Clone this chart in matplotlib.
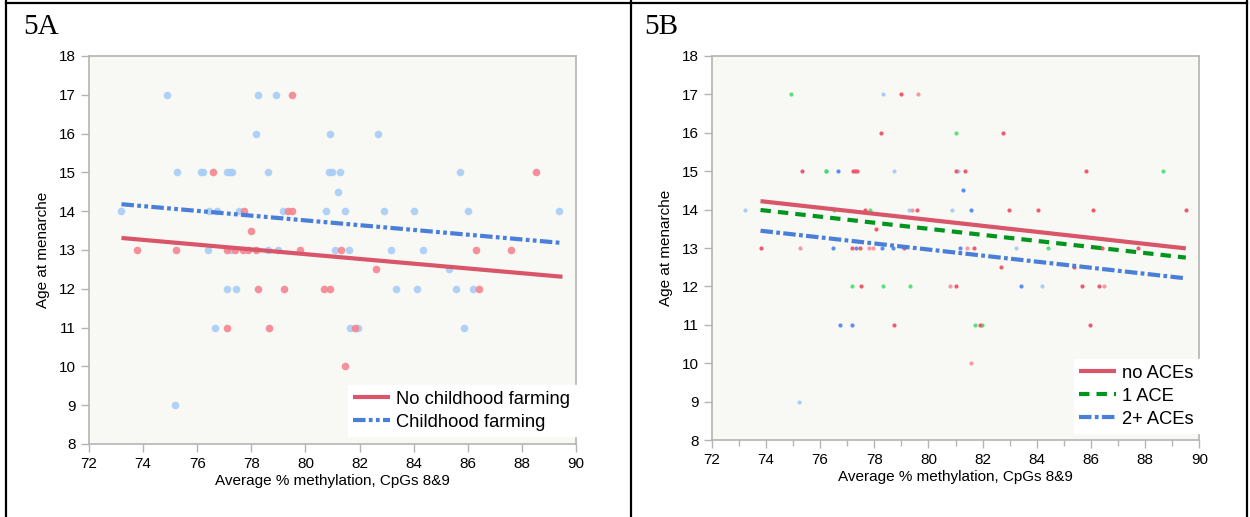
import numpy as np
import matplotlib.pyplot as plt
from matplotlib.lines import Line2D

# ---- data ----
# 5A: no childhood farming (red) / childhood farming (blue)
a_nofarm_x = [79.52, 76.58, 88.52, 77.74, 79.36, 79.49, 77.97, 73.78, 75.21, 77.1, 77.4,
              77.71, 77.86, 78.19, 79.8, 81.33, 86.31, 87.6, 82.61, 78.23, 79.22, 80.68,
              80.9, 86.4, 77.1, 78.64, 81.84, 81.46]
a_nofarm_y = [17, 15, 15, 14, 14, 14, 13.5, 13, 13, 13, 13,
              13, 13, 13, 13, 13, 13, 13, 12.5, 12, 12, 12,
              12, 12, 11, 11, 11, 10]
a_farm_x = [74.89, 78.25, 78.9, 78.19, 80.91, 82.7, 75.27, 76.15, 76.2, 77.1, 77.21, 77.3,
            78.63, 80.86, 80.98, 81.26, 85.72, 81.19, 73.19, 76.42, 76.74, 77.55, 79.17,
            80.75, 81.47, 82.91, 84.0, 86.01, 89.37, 76.39, 77.25, 78.63, 79.0, 81.1, 81.6,
            83.15, 84.34, 85.31, 77.1, 77.43, 83.33, 84.13, 85.57, 86.19, 76.64, 81.66,
            81.93, 85.86, 75.17]
a_farm_y = [17, 17, 17, 16, 16, 16, 15, 15, 15, 15, 15, 15,
            15, 15, 15, 15, 15, 14.5, 14, 14, 14, 14, 14,
            14, 14, 14, 14, 14, 14, 13, 13, 13, 13, 13, 13,
            13, 13, 12.5, 12, 12, 12, 12, 12, 12, 11, 11,
            11, 11, 9]
a_fit_x = [73.2, 89.5]
a_fit_nofarm = [13.31, 12.31]
a_fit_farm = [14.18, 13.18]

# 5B: marker colours as in the picture
b_red_x = [78.98, 78.26, 82.75, 75.33, 77.21, 77.28, 77.38, 81.01, 81.33, 85.83, 77.65, 79.57,
           82.98, 84.06, 86.09, 89.49, 78.06, 73.81, 77.19, 77.49, 79.09, 81.68, 86.40,
           87.72, 82.68, 85.37, 77.52, 81.01, 85.65, 86.30, 78.73, 81.90, 85.95]
b_red_y = [17, 16, 16, 15, 15, 15, 15, 15, 15, 15, 14, 14,
           14, 14, 14, 14, 13.5, 13, 13, 13, 13, 13, 13,
           13, 12.5, 12.5, 12, 12, 12, 12, 11, 11, 11]
b_pink_x = [79.62, 79.41, 75.26, 77.8, 77.94, 81.41, 80.78, 86.49, 81.58]
b_pink_y = [17, 14, 13, 13, 13, 13, 12, 12, 10]
b_green_x = [74.94, 81.01, 76.22, 76.22, 77.83, 76.5, 84.42, 77.19, 78.31, 79.31, 81.72,
             81.96, 88.64]
b_green_y = [17, 16, 15, 15, 14, 14, 13, 12, 12, 12, 11, 11, 15]
b_blue_x = [76.65, 81.27, 81.56, 76.46, 77.31, 78.27, 78.70, 81.17, 83.40, 76.72, 77.17]
b_blue_y = [15, 14.5, 14, 13, 13, 13, 13, 13, 12, 11, 11]
b_lblue_x = [78.33, 78.72, 81.10, 73.23, 79.28, 80.86, 83.23, 84.20, 75.23]
b_lblue_y = [17, 15, 15, 14, 14, 14, 13, 12, 9]
b_fit_x = [73.8, 89.5]
b_fit_none = [14.22, 12.99]
b_fit_one = [13.99, 12.75]
b_fit_two = [13.45, 12.21]

RED = '#d95569'
BLUE = '#4a7fd9'
GREEN = '#00961e'
FACE = '#f8f8f4'
SPINE = '#b4b4b4'

plt.rcParams['font.family'] = ['Liberation Sans', 'DejaVu Sans']

fig = plt.figure(figsize=(12.5, 5.17), dpi=100)


def style_axes(ax, minor):
    ax.set_facecolor(FACE)
    ax.set_xlim(72, 90)
    ax.set_ylim(8, 18)
    ax.set_xticks(np.arange(72, 91, 2))
    ax.set_yticks(np.arange(8, 19, 1))
    if minor:
        ax.set_xticks(np.arange(73, 90, 2), minor=True)
        ax.tick_params(axis='x', which='minor', length=4, color=SPINE, width=1)
    for s in ax.spines.values():
        s.set_color(SPINE)
        s.set_linewidth(1.2)
    ax.tick_params(which='major', length=6, color=SPINE, width=1, labelsize=11, labelcolor='black')
    ax.set_xlabel('Average % methylation, CpGs 8&9', fontsize=11, labelpad=2)
    ax.set_ylabel('Age at menarche', fontsize=11, labelpad=6)


def add_legend(ax, ypad):
    ax.legend(loc='lower right', bbox_to_anchor=(1.0, ypad), fontsize=13.2, frameon=True,
              fancybox=False, framealpha=1, edgecolor='white', handlelength=2.0,
              handletextpad=0.35, borderaxespad=0.0, borderpad=0.3, labelspacing=0.32)


# ---- 5A ----
ax1 = fig.add_axes([0.0712, 0.1412, 0.3896, 0.7505])
style_axes(ax1, False)
ax1.scatter(a_farm_x, a_farm_y, s=30, color='#a9cdf7', alpha=0.9, lw=0, zorder=2)
ax1.scatter(a_nofarm_x, a_nofarm_y, s=30, color='#f5848f', alpha=0.9, lw=0, zorder=2)
ax1.plot(a_fit_x, a_fit_nofarm, color=RED, lw=3, solid_capstyle='butt', zorder=3,
         label='No childhood farming')
ax1.plot(a_fit_x, a_fit_farm, color=BLUE, lw=3, zorder=3,
         linestyle=(0, (3, 0.8, 0.9, 0.8, 0.9, 0.8)), label='Childhood farming')
add_legend(ax1, 0.02)

# ---- 5B ----
ax2 = fig.add_axes([0.5694, 0.1489, 0.3901, 0.7428])
style_axes(ax2, True)
ax2.scatter(b_lblue_x, b_lblue_y, s=9, color='#a9cdf7', lw=0, zorder=2)
ax2.scatter(b_pink_x, b_pink_y, s=9, color='#f59aa3', lw=0, zorder=2)
ax2.scatter(b_blue_x, b_blue_y, s=9, color='#5b8ef0', lw=0, zorder=2)
ax2.scatter(b_green_x, b_green_y, s=9, color='#3fdc68', alpha=0.85, lw=0, zorder=2)
ax2.scatter(b_red_x, b_red_y, s=9, color='#f05a6c', lw=0, zorder=2)
ax2.plot(b_fit_x, b_fit_none, color=RED, lw=3, solid_capstyle='butt', zorder=3,
         label='no ACEs')
ax2.plot(b_fit_x, b_fit_one, color=GREEN, lw=3, zorder=3,
         linestyle=(0, (2.5, 1.7)), label='1 ACE')
ax2.plot(b_fit_x, b_fit_two, color=BLUE, lw=3, zorder=3,
         linestyle=(0, (3, 0.8, 0.9, 0.8)), label='2+ ACEs')
add_legend(ax2, 0.018)

# panel labels
fig.text(23 / 1250, 1 - 34 / 517, '5A', fontsize=21, family=['Liberation Serif', 'DejaVu Serif'])
fig.text(644 / 1250, 1 - 34 / 517, '5B', fontsize=21, family=['Liberation Serif', 'DejaVu Serif'])

# table-like borders
for xs, ys in [([6, 6], [0, 517]), ([631, 631], [0, 517]), ([1247, 1247], [0, 517]),
               ([6, 1247], [3, 3])]:
    fig.add_artist(Line2D([x / 1250 for x in xs], [1 - y / 517 for y in ys],
                          color='black', lw=1.6, transform=fig.transFigure))

fig.savefig('out.png', dpi=100)
